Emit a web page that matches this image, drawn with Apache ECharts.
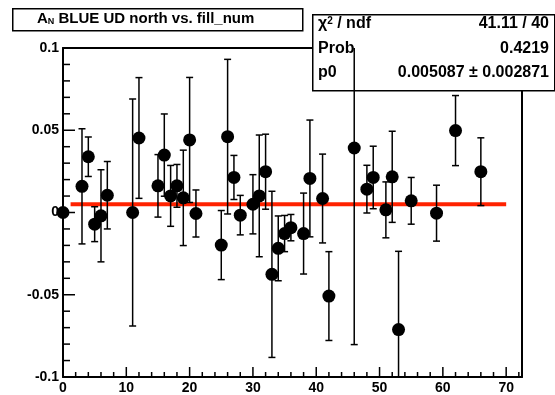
<!DOCTYPE html>
<html>
<head>
<meta charset="utf-8">
<script src="https://cdn.jsdelivr.net/npm/echarts@6/dist/echarts.min.js"></script>
<style>
  html, body { margin: 0; padding: 0; background: #fff; }
  #chart { width: 555px; height: 395px; }
</style>
</head>
<body>
<div id="chart"></div>
<script>
// fill number, A_N value and its error
var fillNum = [0, 3, 4, 5, 6, 7, 11, 12, 15, 16, 17, 18, 19, 20, 21, 25, 26, 27, 28, 30,
  31, 32, 33, 34, 35, 36, 38, 39, 41, 42, 46, 48, 49, 51, 52, 53, 55, 59, 62, 66];
var anVal = [0, 0.0159, 0.0339, -0.0071, -0.002, 0.0105, 0, 0.0453, 0.0162, 0.0349,
  0.0101, 0.0162, 0.0089, 0.0441, -0.0006, -0.0198, 0.0461, 0.0213, -0.0016, 0.005,
  0.0101, 0.0248, -0.0376, -0.0218, -0.0128, -0.0092, -0.0128, 0.0207, 0.0085, -0.0508,
  0.0392, 0.0142, 0.0213, 0.0016, 0.0217, -0.0712, 0.0071, -0.0004, 0.0498, 0.0248];
var anErr = [0, 0.035, 0.012, 0.0106, 0.028, 0.0205, 0.069, 0.0367, 0.019, 0.025,
  0.0185, 0.013, 0.029, 0.038, 0.0143, 0.021, 0.047, 0.0134, 0.012, 0.018,
  0.037, 0.0228, 0.0505, 0.0197, 0.011, 0.008, 0.0246, 0.0355, 0.027, 0.027,
  0.1195, 0.0145, 0.019, 0.017, 0.0277, 0.0476, 0.0142, 0.017, 0.0213, 0.0206];

// constant fit p0 and the x range it is drawn over
var p0 = 0.005087;
var fitRange = [1.2, 70];

// axis ranges and tick steps
var xRange = [0, 72.5], xStep = 10, xMinorStep = 2;
var yRange = [-0.1, 0.1], yStep = 0.05, yMinorStep = 0.01;

// stats box text
var statLabels = ["χ{sup|2}{t| / ndf}", "Prob", "p0"];
var statValues = ["41.11 / 40", "0.4219", "0.005087 \u00b1 0.002871"];

var font = "Liberation Sans";

var points = [];
var bars = [];
for (var i = 0; i < fillNum.length; i++) {
  points.push([fillNum[i], anVal[i]]);
  bars.push([fillNum[i], anVal[i], anErr[i]]);
}

var chart = echarts.init(document.getElementById("chart"));

// error bars, clipped to the frame like ROOT does
function renderErr(params, api) {
  var x = api.value(0), y = api.value(1), e = api.value(2);
  if (!e) return null;
  var cs = params.coordSys;
  var hi = api.coord([x, y + e]);
  var lo = api.coord([x, y - e]);
  var top = Math.max(hi[1], cs.y);
  var bot = Math.min(lo[1], cs.y + cs.height);
  var cap = 3.5;
  var st = { stroke: "#000", lineWidth: 1.5 };
  var kids = [{ type: "line", shape: { x1: hi[0], y1: top, x2: hi[0], y2: bot }, style: st }];
  if (hi[1] >= cs.y) kids.push({ type: "line", shape: { x1: hi[0] - cap, y1: hi[1], x2: hi[0] + cap, y2: hi[1] }, style: st });
  if (lo[1] <= cs.y + cs.height) kids.push({ type: "line", shape: { x1: lo[0] - cap, y1: lo[1], x2: lo[0] + cap, y2: lo[1] }, style: st });
  return { type: "group", children: kids };
}

var statText = [];
for (var k = 0; k < statLabels.length; k++) {
  statText.push({
    type: "text", left: 318, top: 16 + k * 24.5, z: 1,
    style: {
      text: k == 0 ? statLabels[k] : "{t|" + statLabels[k] + "}",
      font: "bold 16px " + font, fill: "#000",
      rich: {
        t: { fontFamily: font, fontWeight: "bold", fontSize: 16 },
        sup: { fontFamily: font, fontWeight: "bold", fontSize: 10, verticalAlign: "top" }
      }
    }
  });
  statText.push({
    type: "text", right: 6, top: 16 + k * 24.5, z: 1,
    style: { text: statValues[k], font: "bold 16px " + font, fill: "#000", textAlign: "right" }
  });
}

var baseGraphic = [
  {
    type: "rect", left: 12, top: 8, z: 1,
    shape: { width: 290, height: 22 },
    style: { fill: "#fff", stroke: "#000", lineWidth: 1.5 }
  },
  {
    type: "text", left: 37, top: 11, z: 1,
    style: {
      text: "{t|A}{s|N}{t| BLUE UD north vs. fill_num}",
      rich: {
        t: { fontFamily: font, fontWeight: "bold", fontSize: 15 },
        s: { fontFamily: font, fontWeight: "bold", fontSize: 9, verticalAlign: "bottom" }
      }
    }
  },
  {
    type: "rect", left: 312, top: 14, z: 1,
    shape: { width: 242, height: 76 },
    style: { fill: "#fff", stroke: "#000", lineWidth: 1.5 }
  }
].concat(statText);

var frameLine = { show: true, onZero: false, lineStyle: { color: "#000", width: 2 } };

// plain frame axis for the top and right edges
function frameAxis(pos, range) {
  return {
    type: "value", position: pos, min: range[0], max: range[1],
    axisLine: frameLine, axisTick: { show: false }, axisLabel: { show: false },
    splitLine: { show: false }
  };
}

chart.setOption({
  animation: false,
  grid: { left: 63, right: 33, top: 48, bottom: 17 },
  graphic: baseGraphic,
  xAxis: [{
    type: "value", min: xRange[0], max: xRange[1], interval: xStep,
    position: "bottom",
    splitLine: { show: false },
    axisLine: frameLine,
    axisTick: { show: false },
    axisLabel: {
      showMaxLabel: false, margin: 4, color: "#000",
      fontFamily: font, fontWeight: "bold", fontSize: 14
    }
  }, frameAxis("top", xRange)],
  yAxis: [{
    type: "value", min: yRange[0], max: yRange[1], interval: yStep,
    position: "left",
    splitLine: { show: false },
    axisLine: frameLine,
    axisTick: { show: false },
    axisLabel: {
      margin: 4, color: "#000",
      fontFamily: font, fontWeight: "bold", fontSize: 14
    }
  }, frameAxis("right", yRange)],
  series: [
    {
      type: "line", z: 2,
      data: [[fitRange[0], p0], [fitRange[1], p0]],
      symbol: "none",
      lineStyle: { color: "#ff2200", width: 4 }
    },
    {
      type: "custom", z: 3,
      renderItem: renderErr,
      encode: { x: 0, y: 1 },
      data: bars
    },
    {
      type: "scatter", z: 4,
      data: points,
      symbolSize: 13,
      itemStyle: { color: "#000", opacity: 1 }
    }
  ]
});

// inward frame ticks, placed through the grid's own scales
var tickStyle = { stroke: "#000", lineWidth: 1.5 };
var ticks = [];
for (var t = 0; xRange[0] + t * xMinorStep <= xRange[1] + 1e-9; t++) {
  var px = chart.convertToPixel({ gridIndex: 0 }, [xRange[0] + t * xMinorStep, yRange[0]]);
  var lx = t % Math.round(xStep / xMinorStep) == 0 ? 10 : 5;
  ticks.push({ type: "line", z: 50, silent: true,
    shape: { x1: px[0], y1: px[1], x2: px[0], y2: px[1] - lx }, style: tickStyle });
}
for (var t = 0; yRange[0] + t * yMinorStep <= yRange[1] + 1e-9; t++) {
  var py = chart.convertToPixel({ gridIndex: 0 }, [xRange[0], yRange[0] + t * yMinorStep]);
  var ly = t % Math.round(yStep / yMinorStep) == 0 ? 12 : 7;
  ticks.push({ type: "line", z: 50, silent: true,
    shape: { x1: py[0], y1: py[1], x2: py[0] + ly, y2: py[1] }, style: tickStyle });
}
chart.setOption({ graphic: baseGraphic.concat(ticks) }, { replaceMerge: ["graphic"] });
</script>
</body>
</html>
